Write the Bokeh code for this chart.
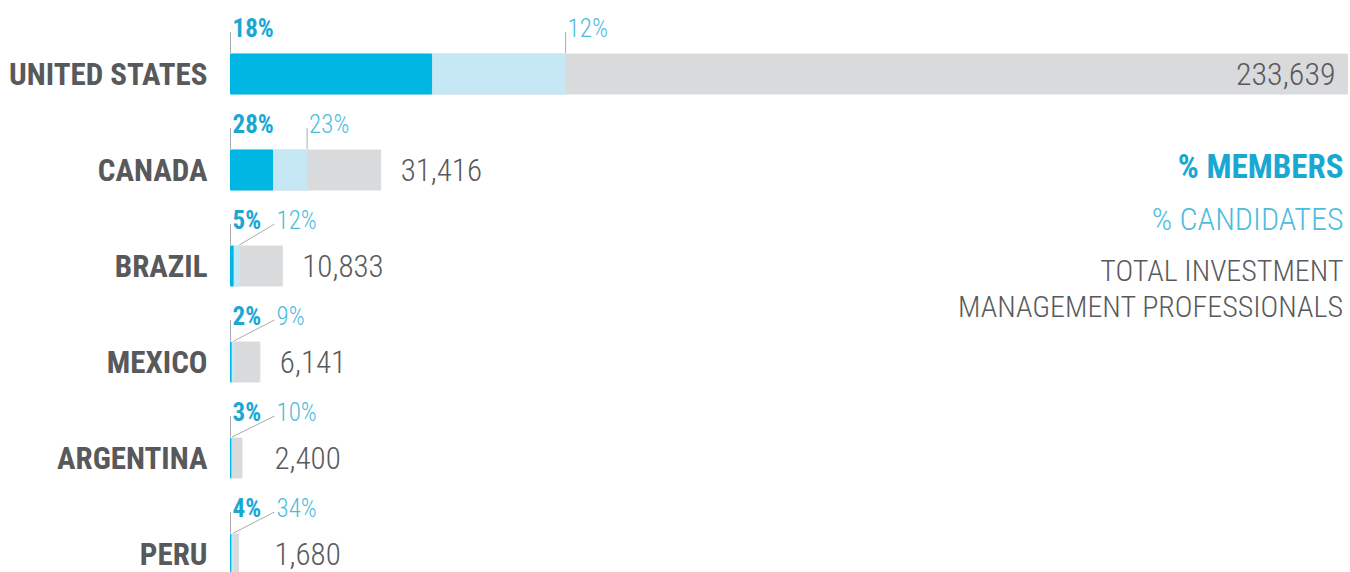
from bokeh.plotting import figure
from bokeh.models import ColumnDataSource, Range1d
from bokeh.core.properties import value
from bokeh.embed import file_html
from bokeh.resources import INLINE

countries = ["UNITED STATES", "CANADA", "BRAZIL", "MEXICO", "ARGENTINA", "PERU"]
totals = [233639, 31416, 10833, 6141, 2400, 1680]
pct_members = [18, 28, 5, 2, 3, 4]
pct_candidates = [12, 23, 12, 9, 10, 34]
total_labels = ["233,639", "31,416", "10,833", "6,141", "2,400", "1,680"]
legend_lines = ["% MEMBERS", "% CANDIDATES", "TOTAL INVESTMENT", "MANAGEMENT PROFESSIONALS"]

W, H = 1350, 572
X0 = 230            # pixel where bars start
BAR_SPAN = 1117     # pixels for the largest total
k = max(totals) / BAR_SPAN   # data units per pixel
ROW0, ROW_STEP, BAR_H = 73.5, 96, 40

FONT = value("Roboto Condensed")
FONT_L = value("'Roboto Condensed Light', 'Roboto Condensed'")
C_MEM = "#00b6e3"
C_CAND = "#c6e7f4"
C_TOT = "#d8dadc"
C_TXT_MEM = "#1aa8d3"
C_TXT_CAND = "#4fbcdc"
C_GREY = "#58595b"
C_TICK = "#a9abad"

ys = [ROW0 + i * ROW_STEP for i in range(len(countries))]
mem_end = [t * m / 100 for t, m in zip(totals, pct_members)]
cand_end = [t * (m + c) / 100 for t, m, c in zip(totals, pct_members, pct_candidates)]
min_cand_lbl = (276 - X0) * k
cand_lbl_x = [max(e + 2 * k, min_cand_lbl) for e in cand_end]
min_val_x = (274 - X0) * k
val_x = [t if t * 0.5 > max(totals) * 0.4 else max(t + 20 * k, min_val_x) for t in totals]

src = ColumnDataSource(dict(
    y=ys, country=countries, total=totals, mem_end=mem_end, cand_end=cand_end,
    zero=[0] * len(ys),
    mem_lbl=[f"{m}%" for m in pct_members],
    cand_lbl=[f"{c}%" for c in pct_candidates],
    cand_lbl_x=cand_lbl_x,
    line_x0=[x - 2 * k for x in cand_lbl_x],
    lbl_y=[y - 46 for y in ys],
    tick_top=[y - 42 for y in ys],
    tick_bot=[y - 21 for y in ys],
    tot_lbl=total_labels,
))

p = figure(width=W, height=H, output_backend="svg", toolbar_location=None,
           x_range=Range1d(-X0 * k, (W - X0) * k), y_range=Range1d(H, 0),
           min_border=0, outline_line_color=None)
p.axis.visible = False
p.grid.visible = False
p.background_fill_color = "white"
p.border_fill_color = "white"

p.hbar(y="y", left="zero", right="total", height=BAR_H, source=src, color=C_TOT)
p.hbar(y="y", left="mem_end", right="cand_end", height=BAR_H, source=src, color=C_CAND)
p.hbar(y="y", left="zero", right="mem_end", height=BAR_H, source=src, color=C_MEM)

# leader lines
p.segment(x0="zero", y0="tick_top", x1="zero", y1="tick_bot", source=src, line_color=C_TICK, line_width=1)
p.segment(x0="line_x0", y0="tick_top", x1="cand_end", y1="tick_bot", source=src, line_color=C_TICK, line_width=1)

# country labels
p.text(x=[(207 - X0) * k] * len(ys), y=ys, text=countries, text_align="right", text_baseline="middle",
       text_font=FONT, text_font_style="bold", text_font_size="31px", text_color=C_GREY)

# percentage labels
p.text(x="zero", y="lbl_y", text="mem_lbl", source=src, x_offset=2, text_baseline="middle",
       text_font=FONT, text_font_style="bold", text_font_size="25px", text_color=C_TXT_MEM)
p.text(x="cand_lbl_x", y="lbl_y", text="cand_lbl", source=src, text_baseline="middle",
       text_font=FONT_L, text_font_size="25px", text_color=C_TXT_CAND)

# total labels
inside = [i for i, t in enumerate(totals) if t * 0.5 > max(totals) * 0.4]
outside = [i for i in range(len(totals)) if i not in inside]
p.text(x=[val_x[i] for i in inside], y=[ys[i] for i in inside], text=[total_labels[i] for i in inside],
       x_offset=-12, text_align="right", text_baseline="middle",
       text_font=FONT_L, text_font_size="32px", text_color=C_GREY)
p.text(x=[val_x[i] for i in outside], y=[ys[i] for i in outside], text=[total_labels[i] for i in outside],
       text_align="left", text_baseline="middle",
       text_font=FONT_L, text_font_size="31px", text_color=C_GREY)

# legend
lx = (1343 - X0) * k
p.text(x=[lx], y=[166], text=[legend_lines[0]], text_align="right", text_baseline="middle",
       text_font=FONT, text_font_style="bold", text_font_size="33px", text_color=C_TXT_MEM)
p.text(x=[lx], y=[218], text=[legend_lines[1]], text_align="right", text_baseline="middle",
       text_font=FONT_L, text_font_size="32px", text_color=C_TXT_CAND)
p.text(x=[lx, lx], y=[270, 306], text=legend_lines[2:], text_align="right", text_baseline="middle",
       text_font=FONT_L, text_font_size="30px", text_color=C_GREY)

open("out.html", "w").write(file_html(p, INLINE))
